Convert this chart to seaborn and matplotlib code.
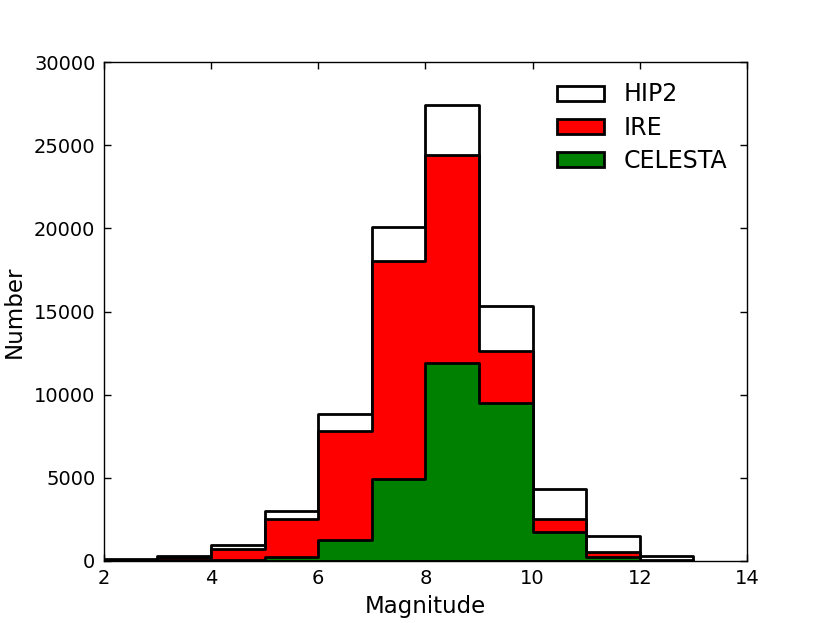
import matplotlib
matplotlib.use("Agg")
import matplotlib.pyplot as plt
import seaborn as sns

# magnitude bin edges and per-bin counts
bin_edges = [2, 3, 4, 5, 6, 7, 8, 9, 10, 11, 12, 13]
hip2_counts = [100, 300, 950, 3000, 8850, 20100, 27400, 15350, 4300, 1500, 300]
ire_counts = [20, 150, 700, 2500, 7800, 18050, 24450, 12650, 2500, 550, 50]
celesta_counts = [0, 10, 40, 200, 1250, 4900, 11900, 9500, 1750, 200, 10]

series_names = ["HIP2", "IRE", "CELESTA"]
series_colors = ["white", "red", "green"]

sns.set_style("ticks")
plt.rcParams['font.family'] = ['DejaVu Sans']
plt.rcParams['text.color'] = 'black'
plt.rcParams['axes.labelcolor'] = 'black'
plt.rcParams['xtick.color'] = 'black'
plt.rcParams['ytick.color'] = 'black'

centers = [(a + b) / 2 for a, b in zip(bin_edges[:-1], bin_edges[1:])]

fig = plt.figure(figsize=(8.3, 6.23), dpi=100)
ax = fig.add_axes([0.125, 0.1, 0.775, 0.8])

for name, counts, color in zip(series_names,
                               [hip2_counts, ire_counts, celesta_counts],
                               series_colors):
    sns.histplot(x=centers, weights=counts, bins=bin_edges, element="step",
                 fill=True, color=color, alpha=1, edgecolor="black",
                 linewidth=2, label=name, ax=ax)

ax.set_xlim(2, 14)
ax.set_ylim(0, 30000)
ax.set_xticks(range(2, 15, 2))
ax.set_yticks(range(0, 30001, 5000))
ax.set_xlabel("Magnitude", fontsize=16.5, labelpad=5)
ax.set_ylabel("Number", fontsize=16.5, labelpad=6)
ax.tick_params(direction="in", top=True, right=True, labelsize=14, length=5,
               width=1, pad=6)
for s in ax.spines.values():
    s.set_linewidth(1)
    s.set_color("black")

ax.legend(loc="upper right", frameon=False, fontsize=17, handlelength=2.0,
          handleheight=0.6, borderaxespad=0.45, labelspacing=0.4,
          handletextpad=0.8)

fig.savefig("out.png", dpi=100)
